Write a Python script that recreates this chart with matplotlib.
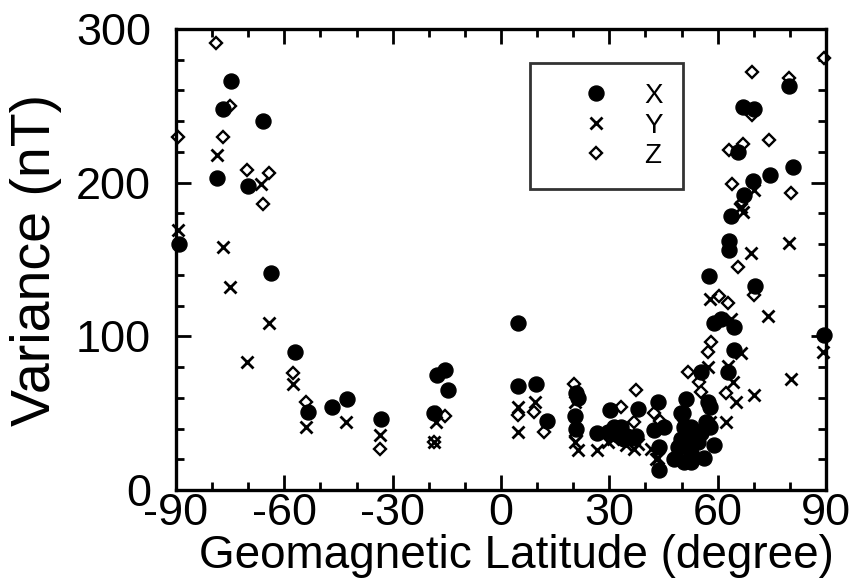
import matplotlib
matplotlib.use("Agg")
import matplotlib.pyplot as plt
from matplotlib.ticker import MultipleLocator

plt.rcParams["font.family"] = ["Liberation Sans", "DejaVu Sans"]
plt.rcParams["axes.unicode_minus"] = False

# X component (filled circles)
x_lat = [-89.2, -78.6, -77.0, -74.7, -70.0, -65.9, -63.7, -57.0, -53.4, -46.7,
         -42.6, -33.1, -18.5, -17.6, -15.4, -14.8,
         4.8, 4.8, 9.8, 12.6, 20.9, 21.2, 20.6, 20.9, 26.7, 30.3, 29.5, 32.3,
         33.1, 35.0, 37.3, 37.8, 31.2, 34.0, 36.3, 43.4, 42.3, 43.7, 43.7, 45.0,
         48.4, 49.8, 51.2, 50.3, 52.5, 51.7, 54.5, 55.3, 57.3, 56.1, 50.6, 55.3,
         58.0, 49.8, 53.4, 50.6, 52.5, 48.9, 47.8, 59.0, 56.7, 58.0, 52.5,
         57.5, 58.9, 60.9, 64.5, 64.5, 62.8, 63.6, 63.1, 63.1, 70.3, 89.4, 79.7,
         67.0, 70.0, 65.6, 74.5, 80.8, 69.7, 67.2]
x_var = [160, 203, 248, 266, 198, 240, 141, 90, 51, 54,
         59, 46, 50, 75, 78, 65,
         109, 68, 69, 45, 63, 60, 48, 40, 37, 52, 38, 36,
         41, 35, 35, 53, 41, 33, 34, 57, 39, 28, 13, 41,
         21, 33, 59, 50, 41, 28, 31, 37, 57, 21, 18, 77,
         41, 50, 35, 41, 24, 28, 20, 29, 44, 54, 18,
         139, 109, 111, 106, 91, 77, 178, 162, 156, 133, 101, 263,
         249, 248, 220, 205, 210, 201, 192]

# Y component (crosses)
y_lat = [-89.4, -78.6, -77.0, -75.0, -70.3, -66.4, -64.2, -57.5, -54.0, -42.9,
         -33.4, -18.5, -17.9,
         4.8, 4.8, 9.3, 20.6, 20.6, 21.2, 26.5, 29.5, 31.0, 34.5, 36.7, 38.0,
         41.4, 43.4, 42.9, 49.8, 50.3, 53.4, 57.3,
         58.0, 66.4, 69.2, 63.6, 73.9, 66.4, 62.8, 64.2, 80.3, 70.0, 65.0, 58.0,
         62.3, 89.2, 79.7, 70.0, 66.9]
y_var = [169, 218, 158, 132, 83, 199, 109, 69, 41, 44,
         36, 31, 44,
         54, 38, 57, 57, 31, 26, 26, 31, 33, 29, 27, 30,
         27, 21, 20, 21, 42, 26, 80,
         124, 184, 154, 111, 113, 89, 81, 70, 72, 62, 57, 44,
         44, 90, 161, 195, 181]

# Z component (open diamonds)
z_lat = [-89.4, -78.9, -77.0, -75.0, -70.3, -65.9, -64.2, -57.5, -54.0, -33.4,
         -18.5, -17.6, -15.4,
         4.6, 9.0, 11.8, 20.1, 20.9, 33.1, 36.7, 37.3, 42.3, 44.0, 51.7, 54.8,
         55.3, 57.5,
         57.3, 58.1, 60.3, 62.8, 62.3, 65.6, 70.0, 63.9, 66.4, 63.1, 67.0, 74.2,
         80.3, 69.4, 79.7, 69.4, 89.4]
z_var = [230, 291, 230, 250, 208, 186, 206, 76, 57, 27,
         31, 50, 48,
         49, 51, 38, 69, 35, 54, 44, 65, 50, 45, 77, 70,
         64, 44,
         90, 96, 126, 122, 63, 145, 127, 199, 186, 221, 225, 228,
         193, 272, 268, 244, 281]

fig = plt.figure(figsize=(8.49, 5.82), dpi=100)
ax = fig.add_axes([176 / 849, 1 - 490 / 582, 650 / 849, 461 / 582])

hz, = ax.plot(z_lat, z_var, "D", ms=5.8, mfc="white", mec="black", mew=1.7,
              linestyle="none", clip_on=False)
hy, = ax.plot(y_lat, y_var, "x", ms=9, mec="black", mew=2.0,
              linestyle="none", clip_on=False)
hx, = ax.plot(x_lat, x_var, "o", ms=10.8, mfc="black", mec="black",
              linestyle="none", clip_on=False)

ax.set_xlim(-90, 90)
ax.set_ylim(0, 300)
ax.xaxis.set_major_locator(MultipleLocator(30))
ax.xaxis.set_minor_locator(MultipleLocator(10))
ax.yaxis.set_major_locator(MultipleLocator(100))
ax.yaxis.set_minor_locator(MultipleLocator(20))
ax.tick_params(which="both", direction="in", top=True, right=True, width=2)
ax.tick_params(which="major", length=11, labelsize=32.5)
ax.tick_params(which="minor", length=6)
ax.tick_params(axis="x", pad=2)
ax.tick_params(axis="y", pad=18)
for s in ax.spines.values():
    s.set_linewidth(2.4)

ax.set_xlabel("Geomagnetic Latitude (degree)", fontsize=33)
ax.xaxis.set_label_coords(0.523, -0.144, transform=ax.transAxes)
ax.xaxis.label.set_va("center")
ax.set_ylabel("Variance (nT)", fontsize=40, labelpad=10)

leg = ax.legend([hx, hy, hz], ["X", "Y", "Z"], loc="upper left",
                bbox_to_anchor=(0.5446, 0.926), borderaxespad=0, fontsize=20,
                frameon=True, fancybox=False, edgecolor="black",
                handletextpad=0.1, labelspacing=0.14, borderpad=0.72,
                handlelength=3.3)
leg.get_frame().set_linewidth(2)

fig.savefig("out.png", dpi=100)
